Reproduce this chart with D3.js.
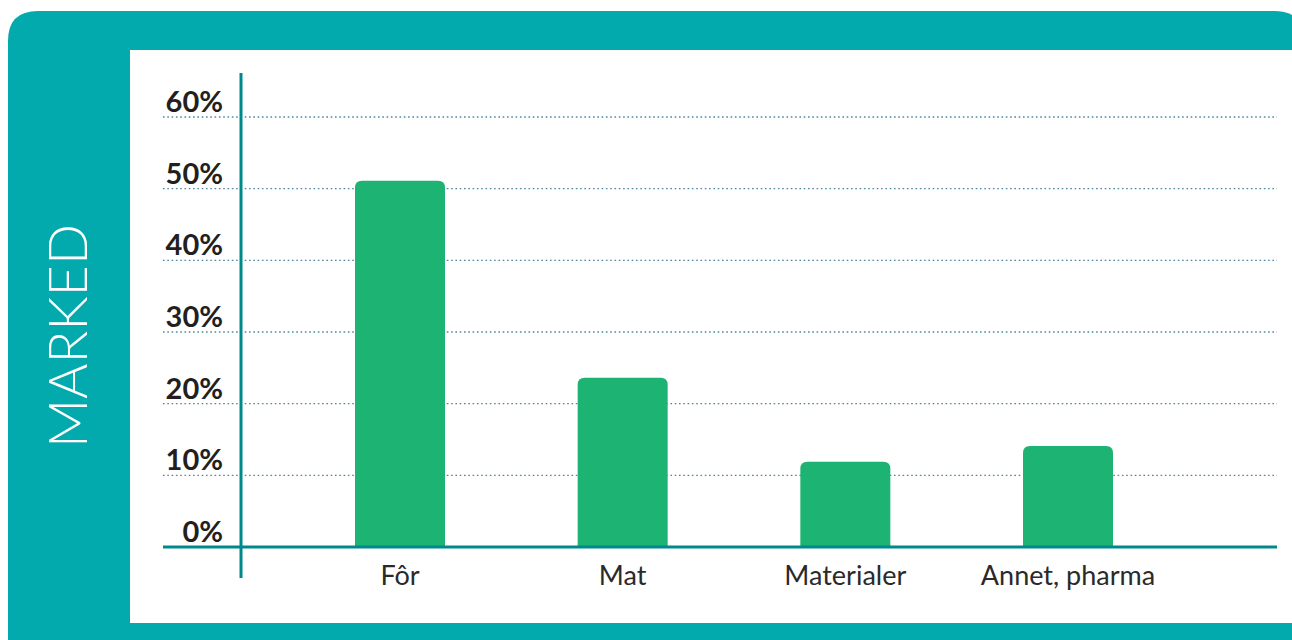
<!DOCTYPE html>
<html><head><meta charset="utf-8">
<script src="https://cdn.jsdelivr.net/npm/d3@7"></script>
<style>html,body{margin:0;padding:0;background:#fff;overflow:hidden}</style>
</head><body>
<svg id="c" width="1292" height="640"></svg>
<script>
const categories = ["Fôr", "Mat", "Materialer", "Annet, pharma"];
const values = [51.1, 23.6, 11.9, 14.1];
const tickValues = [0, 10, 20, 30, 40, 50, 60];
const sideTitle = "MARKED";

const svg = d3.select("#c");
const teal = "#03AAAD";

// outer teal panel with rounded top corners
const px0 = 8, py0 = 11, px1 = 1304, py1 = 660, r = 30;
svg.append("path")
  .attr("d", `M${px0},${py1} L${px0},${py0 + r} Q${px0},${py0} ${px0 + r},${py0} L${px1 - r},${py0} Q${px1},${py0} ${px1},${py0 + r} L${px1},${py1} Z`)
  .attr("fill", teal);
// white inner panel
svg.append("rect").attr("x", 130).attr("y", 50).attr("width", 1170).attr("height", 573).attr("fill", "#fff");

// side title
svg.append("text")
  .attr("transform", "translate(87,336) rotate(-90)")
  .attr("text-anchor", "middle")
  .attr("font-family", "Lato")
  .attr("font-weight", 300)
  .attr("font-size", 54)
  .attr("fill", "#fff")
  .text(sideTitle);

const y = d3.scaleLinear().domain([0, 60]).range([547, 117]);
const x = d3.scalePoint().domain(categories).range([400, 1068]);
const bw = 90;

// gridlines
svg.append("g").selectAll("line").data(tickValues.filter(d => d > 0)).join("line")
  .attr("x1", 163).attr("x2", 1277)
  .attr("y1", d => y(d)).attr("y2", d => y(d))
  .attr("stroke", "#4f87a0").attr("stroke-width", 1.3)
  .attr("stroke-dasharray", "1.6,2.7");

// tick labels
svg.append("g").selectAll("text").data(tickValues).join("text")
  .attr("x", 223).attr("y", d => y(d) - 5)
  .attr("text-anchor", "end")
  .attr("font-family", "Lato").attr("font-weight", 700).attr("font-size", 29)
  .attr("fill", "#231f20")
  .text(d => d + "%");

// bars with rounded top corners
const rr = 7;
svg.append("g").selectAll("path").data(categories).join("path")
  .attr("d", (d, i) => {
    const x0 = x(d) - bw / 2, x1 = x(d) + bw / 2, yt = y(values[i]), yb = y(0);
    return `M${x0},${yb} L${x0},${yt + rr} Q${x0},${yt} ${x0 + rr},${yt} L${x1 - rr},${yt} Q${x1},${yt} ${x1},${yt + rr} L${x1},${yb} Z`;
  })
  .attr("fill", "#1DB372");

// axes lines
svg.append("line").attr("x1", 241).attr("x2", 241).attr("y1", 73).attr("y2", 578)
  .attr("stroke", "#00898C").attr("stroke-width", 3);
svg.append("line").attr("x1", 163).attr("x2", 1277).attr("y1", y(0)).attr("y2", y(0))
  .attr("stroke", "#00898C").attr("stroke-width", 3);

// category labels
svg.append("g").selectAll("text").data(categories).join("text")
  .attr("x", d => x(d)).attr("y", 585)
  .attr("text-anchor", "middle")
  .attr("font-family", "Lato").attr("font-size", 27)
  .attr("fill", "#2a2a2a")
  .text(d => d);
</script>
</body></html>
